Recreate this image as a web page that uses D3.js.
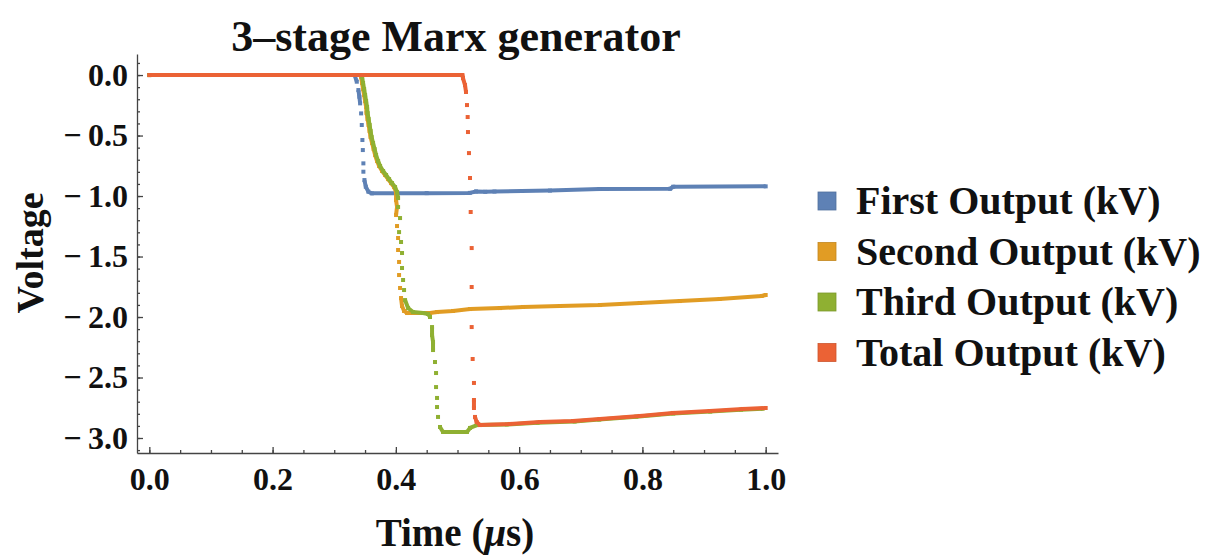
<!DOCTYPE html>
<html>
<head>
<meta charset="utf-8">
<script src="https://cdn.jsdelivr.net/npm/d3@7"></script>
<style>
  body { margin: 0; background: #fff; }
  text { font-family: "Liberation Serif", "Times New Roman", serif; font-weight: bold; fill: #111; }
</style>
</head>
<body>
<div id="chart"></div>
<script>
// Series: [time (us), voltage (kV)]
const firstOutput = [
  [0, 0], [0.333, 0], [0.3366, -0.055], [0.3392, -0.124], [0.3408, -0.179], [0.342, -0.234],
  [0.3436, -0.317], [0.3447, -0.413], [0.3457, -0.537], [0.3464, -0.62], [0.3473, -0.73],
  [0.3473, -0.799], [0.349, -0.868], [0.3512, -0.923], [0.3554, -0.964], [0.361, -0.978],
  [0.45, -0.976], [0.52, -0.974], [0.53, -0.962], [0.545, -0.965], [0.56, -0.963],
  [0.65, -0.955], [0.73, -0.942], [0.845, -0.94], [0.85, -0.923], [1.0, -0.92]
];
const secondOutput = [
  [0, 0], [0.343, 0], [0.3436, -0.017], [0.3452, -0.066], [0.3468, -0.116], [0.3485, -0.165],
  [0.3501, -0.215], [0.3517, -0.264], [0.3525, -0.314], [0.3541, -0.364], [0.3558, -0.413],
  [0.3574, -0.463], [0.359, -0.512], [0.3614, -0.562], [0.3639, -0.612], [0.3663, -0.661],
  [0.3695, -0.711], [0.3728, -0.752], [0.3776, -0.793], [0.3825, -0.826], [0.3874, -0.86],
  [0.3922, -0.893], [0.3971, -0.926], [0.4003, -0.967], [0.4003, -1.033], [0.4019, -1.091],
  [0.4003, -1.157], [0.4019, -1.248], [0.4036, -1.347], [0.4036, -1.446], [0.4052, -1.545],
  [0.4052, -1.653], [0.4068, -1.76], [0.4084, -1.843], [0.41, -1.909], [0.4133, -1.95],
  [0.4182, -1.967], [0.4554, -1.967], [0.4668, -1.959], [0.4927, -1.95], [0.5203, -1.934],
  [0.5689, -1.926], [0.6062, -1.917], [0.6661, -1.909], [0.731, -1.901], [0.7958, -1.884],
  [0.8606, -1.868], [0.9254, -1.851], [0.9935, -1.826], [1.0, -1.818]
];
const thirdOutput = [
  [0, 0], [0.344, 0], [0.3452, -0.017], [0.3468, -0.066], [0.3485, -0.116], [0.3501, -0.165],
  [0.3517, -0.215], [0.3533, -0.264], [0.3541, -0.314], [0.3558, -0.364], [0.3574, -0.413],
  [0.359, -0.463], [0.3606, -0.512], [0.363, -0.562], [0.3655, -0.612], [0.3679, -0.661],
  [0.3712, -0.711], [0.3744, -0.752], [0.3793, -0.793], [0.3841, -0.826], [0.389, -0.86],
  [0.3938, -0.893], [0.3987, -0.926], [0.4019, -0.967], [0.4036, -1.017], [0.4036, -1.091],
  [0.4068, -1.182], [0.4052, -1.298], [0.4084, -1.38], [0.41, -1.471], [0.41, -1.595],
  [0.4117, -1.694], [0.4133, -1.777], [0.4149, -1.86], [0.4198, -1.926], [0.4279, -1.959],
  [0.4441, -1.967], [0.4522, -1.975], [0.4554, -2.0], [0.4587, -2.083], [0.4587, -2.149],
  [0.4603, -2.207], [0.4603, -2.273], [0.4635, -2.372], [0.4652, -2.463], [0.4652, -2.579],
  [0.4668, -2.669], [0.4668, -2.744], [0.4684, -2.826], [0.4716, -2.909], [0.4765, -2.95],
  [0.5154, -2.95], [0.5203, -2.917], [0.5316, -2.893], [0.58, -2.888], [0.63, -2.874],
  [0.69, -2.864], [0.73, -2.848], [0.79, -2.824], [0.85, -2.798], [0.91, -2.782],
  [0.96, -2.766], [0.995, -2.758]
];
const totalOutput = [
  [0, 0], [0.508, 0], [0.5089, -0.025], [0.5122, -0.083], [0.5138, -0.14],
  [0.5154, -0.248], [0.5165, -0.347], [0.517, -0.471], [0.5186, -0.645], [0.5203, -0.851],
  [0.5214, -1.132], [0.523, -1.43], [0.523, -1.752], [0.523, -2.083], [0.5246, -2.347],
  [0.5267, -2.545], [0.5267, -2.686], [0.5267, -2.752], [0.5284, -2.826], [0.5311, -2.868],
  [0.5365, -2.893], [0.5851, -2.884], [0.6337, -2.868], [0.6872, -2.86], [0.731, -2.843],
  [0.7958, -2.818], [0.8493, -2.793], [0.9092, -2.777], [0.9627, -2.76], [1.0, -2.752]
];

const seriesNames = ["First Output (kV)", "Second Output (kV)", "Third Output (kV)", "Total Output (kV)"];
const seriesColors = ["#5e81b5", "#e19c24", "#8fb032", "#eb6235"];
const xTicks = [0, 0.2, 0.4, 0.6, 0.8, 1.0];
const yTicks = [0, -0.5, -1.0, -1.5, -2.0, -2.5, -3.0];

function init() {
    const width = 1211;
    const height = 557;

    const svg = d3.select("#chart")
        .append("svg")
        .attr("width", width)
        .attr("height", height);

    // Scales (plot range padded a little, like the original)
    const x = d3.scaleLinear().domain([-0.02, 1.02]).range([137, 778]);
    const y = d3.scaleLinear().domain([-3.124, 0.174]).range([453, 54]);

    const axisColor = "#444";
    const fmt = d3.format(".1f");
    // Mathematica style: wide minus with a little gap
    const tickLabel = d => d < 0 ? "\u2212\u2009" + fmt(-d) : fmt(d);

    // minor ticks first
    const xMinor = d3.range(0, 1.0001, 0.05);
    const yMinor = d3.range(0.1, -3.1001, -0.1);

    svg.append("g")
        .attr("transform", `translate(0, ${y.range()[0]})`)
        .call(d3.axisBottom(x).tickValues(xMinor).tickSizeInner(-3).tickSizeOuter(0).tickFormat(""))
        .call(g => g.selectAll("line,path").attr("stroke", axisColor).attr("stroke-width", 1.3));

    svg.append("g")
        .attr("transform", `translate(${x.range()[0]}, 0)`)
        .call(d3.axisLeft(y).tickValues(yMinor).tickSizeInner(-3).tickSizeOuter(0).tickFormat(""))
        .call(g => g.selectAll("line,path").attr("stroke", axisColor).attr("stroke-width", 1.3));

    // major ticks with labels
    svg.append("g")
        .attr("transform", `translate(0, ${y.range()[0]})`)
        .call(d3.axisBottom(x).tickValues(xTicks).tickSizeInner(-6).tickSizeOuter(0)
            .tickPadding(14).tickFormat(tickLabel))
        .call(g => g.select(".domain").remove())
        .call(g => g.selectAll("line").attr("stroke", axisColor).attr("stroke-width", 1.3))
        .call(g => g.selectAll("text")
            .attr("font-family", "Liberation Serif")
            .attr("font-weight", "bold")
            .attr("font-size", 32)
            .attr("fill", "#111"));

    svg.append("g")
        .attr("transform", `translate(${x.range()[0]}, 0)`)
        .call(d3.axisLeft(y).tickValues(yTicks).tickSizeInner(-6).tickSizeOuter(0)
            .tickPadding(9).tickFormat(tickLabel))
        .call(g => g.select(".domain").remove())
        .call(g => g.selectAll("line").attr("stroke", axisColor).attr("stroke-width", 1.3))
        .call(g => g.selectAll("text")
            .attr("font-family", "Liberation Serif")
            .attr("font-weight", "bold")
            .attr("font-size", 32)
            .attr("fill", "#111"));

    // Series: dots at every sample, joined where the curve moves slowly
    const allData = [firstOutput, secondOutput, thirdOutput, totalOutput];
    const line = d3.line().x(d => x(d[0])).y(d => y(d[1]));

    allData.forEach((data, i) => {
        const g = svg.append("g");
        const runs = [];
        let run = [data[0]];
        for (let k = 1; k < data.length; k++) {
            const dx = Math.abs(x(data[k][0]) - x(data[k - 1][0]));
            const dy = Math.abs(y(data[k][1]) - y(data[k - 1][1]));
            if (dy < 8 || dx > 2.5) {
                run.push(data[k]);
            } else {
                runs.push(run);
                run = [data[k]];
            }
        }
        runs.push(run);

        runs.filter(r => r.length > 1).forEach(r => {
            g.append("path")
                .attr("d", line(r))
                .attr("fill", "none")
                .attr("stroke", seriesColors[i])
                .attr("stroke-width", 4)
                .attr("stroke-linejoin", "round");
        });

        g.selectAll("rect")
            .data(data)
            .enter().append("rect")
            .attr("x", d => x(d[0]) - 2)
            .attr("y", d => y(d[1]) - 2)
            .attr("width", 4)
            .attr("height", 4)
            .attr("fill", seriesColors[i]);
    });

    // Title and axis labels
    svg.append("text")
        .attr("x", 456)
        .attr("y", 51)
        .attr("text-anchor", "middle")
        .attr("font-size", 44)
        .text("3\u2013stage Marx generator");

    const xLabel = svg.append("text")
        .attr("x", 455)
        .attr("y", 546)
        .attr("text-anchor", "middle")
        .attr("font-size", 39);
    xLabel.append("tspan").text("Time (");
    xLabel.append("tspan").attr("font-style", "italic").text("\u03bc");
    xLabel.append("tspan").text("s)");

    svg.append("text")
        .attr("transform", "translate(43, 253) rotate(-90)")
        .attr("text-anchor", "middle")
        .attr("font-size", 38)
        .text("Voltage");

    // Legend
    const legend = svg.append("g")
        .attr("transform", "translate(818, 201)");

    seriesNames.forEach((name, i) => {
        const row = legend.append("g").attr("transform", `translate(0, ${i * 50.5})`);
        row.append("rect")
            .attr("x", 0)
            .attr("y", -9)
            .attr("width", 18)
            .attr("height", 18)
            .attr("fill", seriesColors[i])
            .attr("stroke", d3.color(seriesColors[i]).darker(0.4))
            .attr("stroke-width", 0.8);
        row.append("text")
            .attr("x", 38)
            .attr("y", 13)
            .attr("font-size", 40)
            .text(name);
    });
}
window.onload = init;
</script>
</body>
</html>
